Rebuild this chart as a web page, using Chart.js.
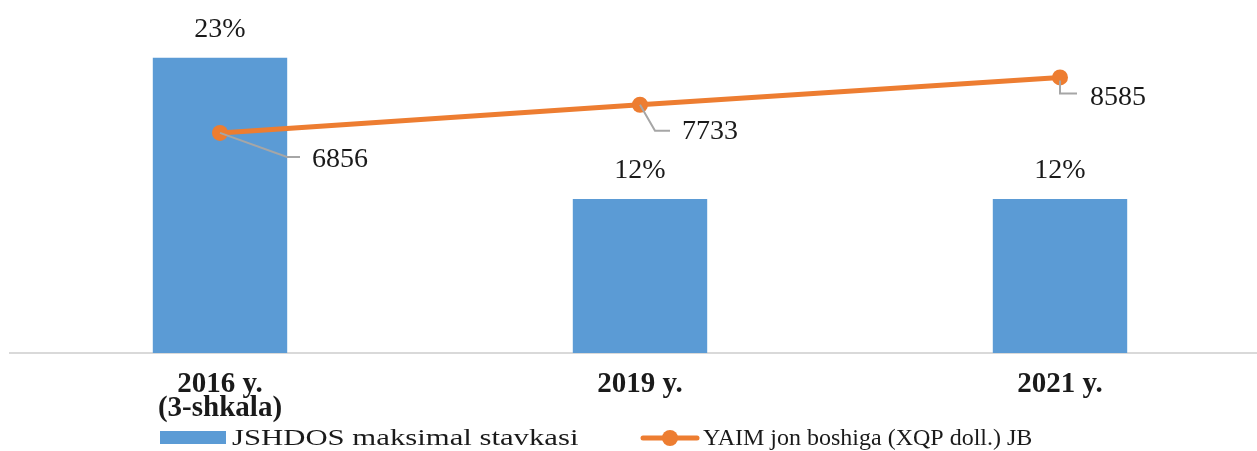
<!DOCTYPE html>
<html>
<head>
<meta charset="utf-8">
<script src="https://cdn.jsdelivr.net/npm/chart.js@4.4.1/dist/chart.umd.min.js"></script>
<style>
    html, body { margin: 0; padding: 0; background: #fff; overflow: hidden; }
    #wrap { width: 1280px; height: 451px; }
</style>
</head>
<body>
<div id="wrap"><canvas id="chart" width="1280" height="451"></canvas></div>
<script>
const categories = [['2016 y.', '(3-shkala)'], '2019 y.', '2021 y.'];
const taxRates = [23, 12, 12];
const gdpPerCapita = [6856, 7733, 8585];
const barName = 'JSHDOS maksimal stavkasi';
const lineName = 'YAIM jon boshiga (XQP doll.) JB';

const barColor = '#5B9BD5';
const lineColor = '#ED7D31';
const textColor = '#1a1a1a';
const serif = '"Liberation Serif", "Times New Roman", serif';

// leader line offsets for the line value labels
const leaders = [
    { pts: [[0, 0], [67, 24], [80, 24]], text: [92, 27] },
    { pts: [[0, 0], [15, 26], [30, 26]], text: [42, 27] },
    { pts: [[0, 3], [0, 16], [17, 16]], text: [30, 20] }
];

const labelPlugin = {
    id: 'labels',
    afterDatasetsDraw(chart) {
        const ctx = chart.ctx;
        ctx.save();
        ctx.font = '28px ' + serif;
        ctx.fillStyle = textColor;
        ctx.textBaseline = 'middle';

        // bar value labels
        ctx.textAlign = 'center';
        chart.getDatasetMeta(0).data.forEach((bar, i) => {
            ctx.fillText(taxRates[i] + '%', bar.x, bar.y - 28);
        });

        // line value labels with leaders
        ctx.textAlign = 'left';
        chart.getDatasetMeta(1).data.forEach((pt, i) => {
            const l = leaders[i];
            ctx.strokeStyle = '#a6a6a6';
            ctx.lineWidth = 2;
            ctx.beginPath();
            l.pts.forEach((p, j) => {
                if (j === 0) ctx.moveTo(pt.x + p[0], pt.y + p[1]);
                else ctx.lineTo(pt.x + p[0], pt.y + p[1]);
            });
            ctx.stroke();
            ctx.fillText(String(gdpPerCapita[i]), pt.x + l.text[0], pt.y + l.text[1]);
        });
        ctx.restore();
    },
    afterDraw(chart) {
        // legend at the bottom
        const ctx = chart.ctx;
        ctx.save();
        ctx.font = '24px ' + serif;
        ctx.textBaseline = 'middle';
        ctx.textAlign = 'left';

        ctx.fillStyle = barColor;
        ctx.fillRect(160, 431, 66, 13);
        ctx.fillStyle = textColor;
        ctx.save();
        ctx.translate(232, 439);
        ctx.scale(1.28, 1);
        ctx.fillText(barName, 0, 0);
        ctx.restore();

        ctx.strokeStyle = lineColor;
        ctx.lineWidth = 5;
        ctx.lineCap = 'round';
        ctx.beginPath();
        ctx.moveTo(643, 438);
        ctx.lineTo(697, 438);
        ctx.stroke();
        ctx.fillStyle = lineColor;
        ctx.beginPath();
        ctx.arc(670, 438, 8, 0, Math.PI * 2);
        ctx.fill();
        ctx.fillStyle = textColor;
        ctx.fillText(lineName, 703, 439);
        ctx.restore();
    }
};

new Chart(document.getElementById('chart'), {
    data: {
        labels: categories,
        datasets: [
            {
                type: 'bar',
                label: barName,
                data: taxRates,
                backgroundColor: barColor,
                yAxisID: 'y',
                order: 1,
                barPercentage: 0.32,
                categoryPercentage: 1
            },
            {
                type: 'line',
                label: lineName,
                data: gdpPerCapita,
                borderColor: lineColor,
                backgroundColor: lineColor,
                borderWidth: 5,
                pointRadius: 8,
                pointHoverRadius: 8,
                pointBorderWidth: 0,
                yAxisID: 'y1',
                order: 0,
                tension: 0
            }
        ]
    },
    options: {
        responsive: false,
        animation: false,
        layout: { padding: { left: 10, right: 10, top: 32, bottom: 0 } },
        plugins: {
            legend: { display: false },
            tooltip: { enabled: false }
        },
        scales: {
            x: {
                grid: { display: false, drawTicks: false },
                border: { display: true, color: '#d9d9d9', width: 2 },
                ticks: {
                    color: textColor,
                    font: { family: serif, size: 29, weight: 'bold', lineHeight: 0.83 },
                    padding: 19,
                    maxRotation: 0,
                    autoSkip: false
                },
                afterFit(scale) { scale.height = 98; }
            },
            y: { display: false, min: 0, max: 25 },
            y1: { display: false, min: 0, max: 10000 }
        }
    },
    plugins: [labelPlugin]
});
</script>
</body>
</html>
